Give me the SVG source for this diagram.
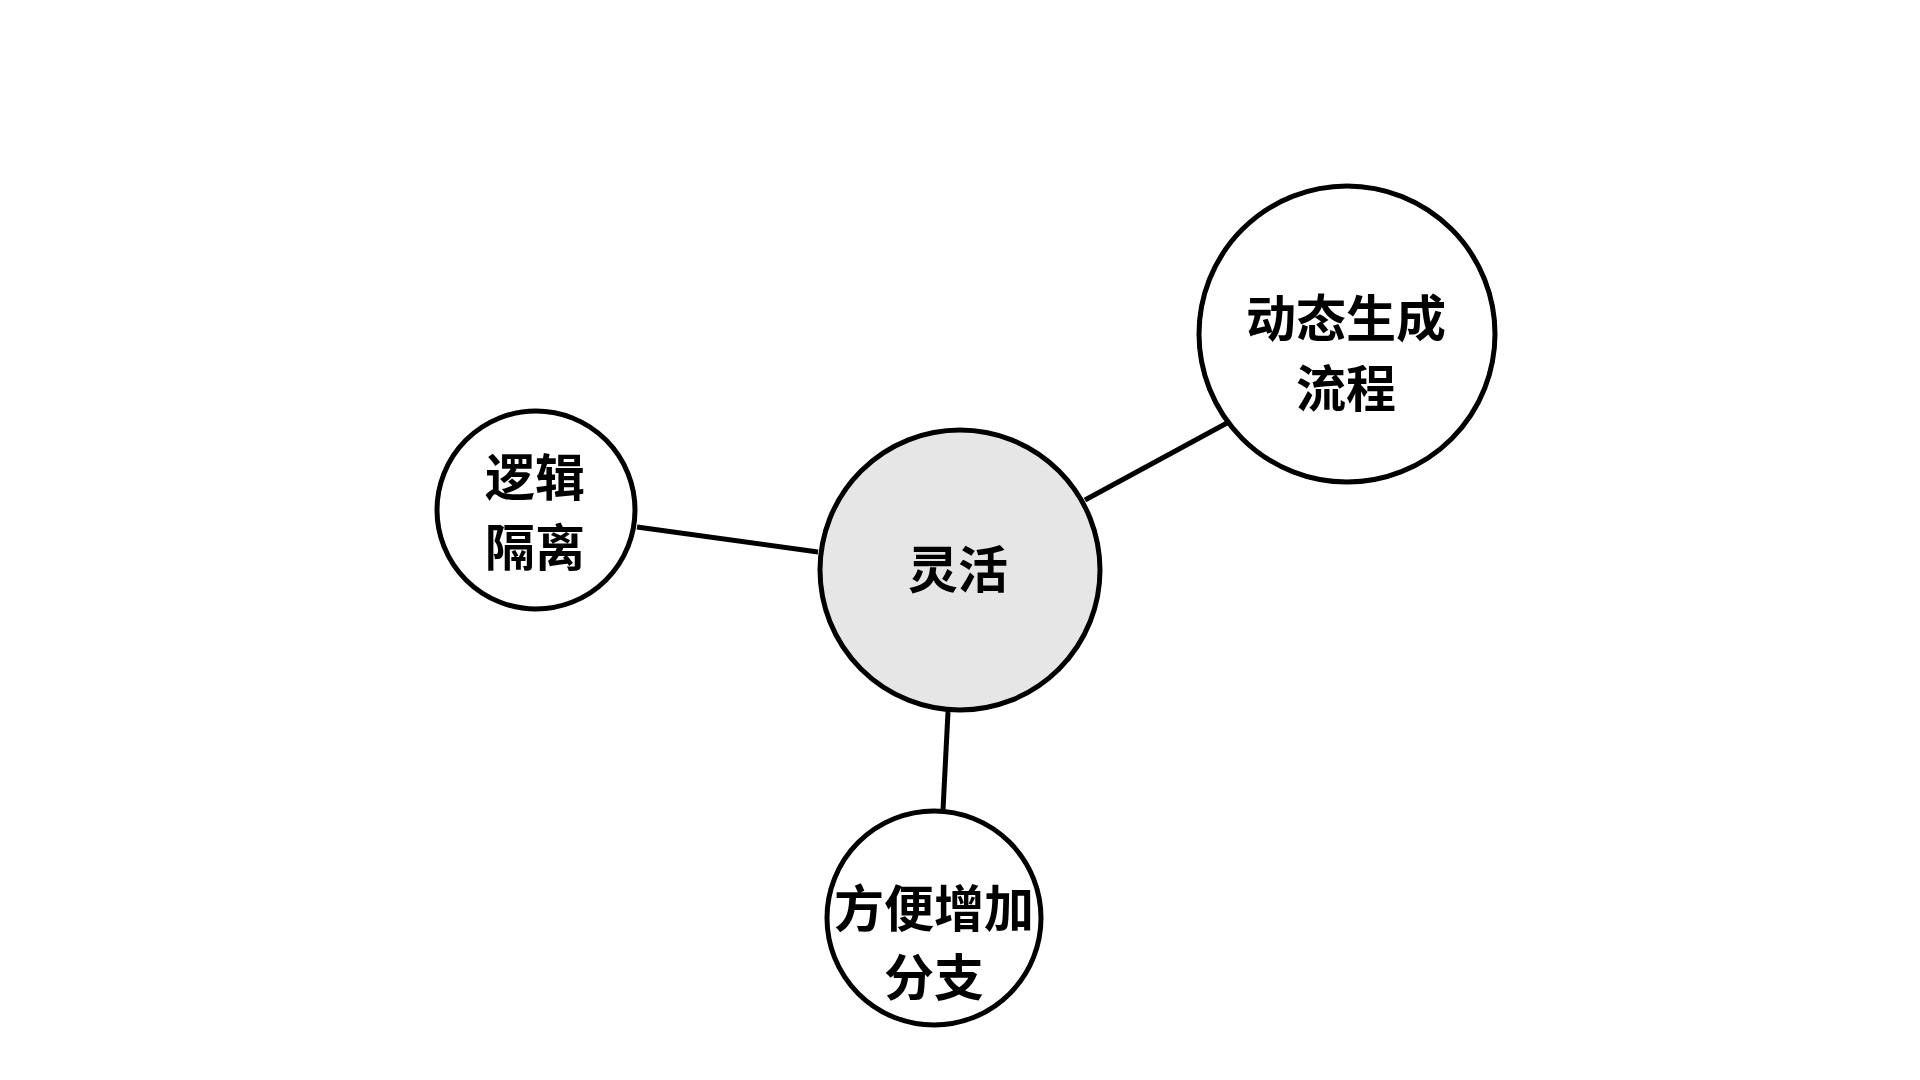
<svg xmlns="http://www.w3.org/2000/svg" width="1920" height="1080" viewBox="0 0 1920 1080">
<style>
.node{fill:#ffffff;stroke:#000000;stroke-width:5}
.hub{fill:#e6e6e6}
.lbl{font-family:"Noto Sans CJK SC","Noto Sans",sans-serif;font-size:50px;font-weight:700;fill:#000000;text-anchor:middle;dominant-baseline:central}
.edge{stroke:#000000;stroke-width:5;fill:none}
</style>
<rect width="1920" height="1080" fill="#ffffff"/>
<g id="connectors">
<line class="edge" x1="1085" y1="500" x2="1227" y2="423"/>
<line class="edge" x1="637" y1="527" x2="818" y2="552"/>
<line class="edge" x1="948" y1="712" x2="943" y2="810"/>
</g>
<g id="node-center">
<circle class="node hub" cx="960" cy="570" r="140"/>
<text class="lbl" x="958" y="566">灵活</text>
</g>
<g id="node-dynamic">
<circle class="node" cx="1347" cy="334" r="148"/>
<text class="lbl" x="1346" y="315">动态生成</text>
<text class="lbl" x="1346" y="385">流程</text>
</g>
<g id="node-logic">
<circle class="node" cx="536" cy="510" r="99"/>
<text class="lbl" x="535" y="474">逻辑</text>
<text class="lbl" x="535" y="544">隔离</text>
</g>
<g id="node-branch">
<circle class="node" cx="934" cy="918" r="107"/>
<text class="lbl" x="934" y="905">方便增加</text>
<text class="lbl" x="934" y="974">分支</text>
</g>
</svg>
